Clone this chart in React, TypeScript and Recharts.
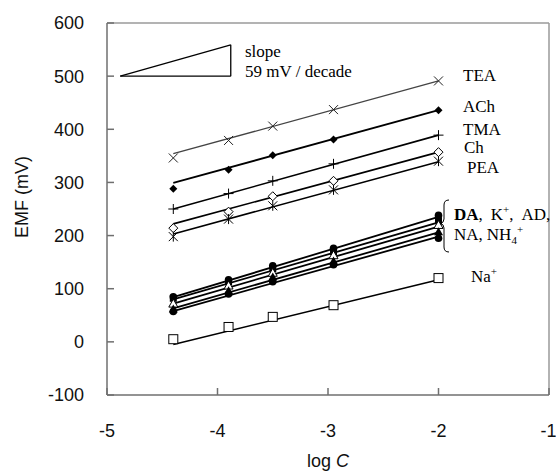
import React from "react";
import { ComposedChart, Scatter, Line, XAxis, YAxis, ReferenceLine } from "recharts";

// log C of the measured points
const logC = [-4.4, -3.9, -3.5, -2.95, -2.0];
const fitX = [-4.4, -2.0];

// measured EMF (mV)
const tea = [346, 379, 406, 437, 491];
const ach = [288, 324, 351, 381, 436];
const tma = [250, 279, 303, 335, 389];
const ch = [214, 245, 274, 303, 357];
const pea = [198, 231, 256, 286, 340];
const da = [85, 117, 143, 176, 238];
const kPlus = [82, 113, 138, 170, 228];
const ad = [72, 106, 130, 163, 220];
const na = [62, 96, 122, 152, 207];
const nh4 = [57, 90, 113, 145, 195];
const naPlus = [5, 28, 47, 69, 120];

// fitted line values at the ends (-4.4, -2.0)
const teaFit = [354, 491];
const achFit = [299, 436];
const tmaFit = [250, 389];
const chFit = [222, 357];
const peaFit = [203, 339];
const daFit = [84, 235];
const kFit = [80, 225];
const adFit = [72, 217];
const naFit = [63, 206];
const nh4Fit = [58, 198];
const naPlusFit = [-5, 117];

const xTicks = [-5, -4, -3, -2, -1];
const yTicks = [-100, 0, 100, 200, 300, 400, 500, 600];

// slope triangle (one decade, 59 mV)
const slopeX = [-4.88, -3.88];
const slopeY = [500, 559];

const pts = (ys: number[]) => logC.map((x, i) => ({ x, y: ys[i] }));
const fitPts = (ys: number[]) => fitX.map((x, i) => ({ x, y: ys[i] }));

const sans = "'Liberation Sans', Arial, sans-serif";
const serif = "'Liberation Serif', 'Times New Roman', serif";

const shapes: Record<string, (p: any) => React.ReactElement> = {
  cross: ({ cx, cy }) => (
    <g stroke="#222" strokeWidth={1}>
      <line x1={cx - 4.5} y1={cy - 4.5} x2={cx + 4.5} y2={cy + 4.5} />
      <line x1={cx - 4.5} y1={cy + 4.5} x2={cx + 4.5} y2={cy - 4.5} />
    </g>
  ),
  plus: ({ cx, cy }) => (
    <g stroke="#000" strokeWidth={1}>
      <line x1={cx - 5} y1={cy} x2={cx + 5} y2={cy} />
      <line x1={cx} y1={cy - 5} x2={cx} y2={cy + 5} />
    </g>
  ),
  star: ({ cx, cy }) => (
    <g stroke="#000" strokeWidth={1}>
      <line x1={cx - 4.5} y1={cy - 4.5} x2={cx + 4.5} y2={cy + 4.5} />
      <line x1={cx - 4.5} y1={cy + 4.5} x2={cx + 4.5} y2={cy - 4.5} />
      <line x1={cx} y1={cy - 5} x2={cx} y2={cy + 5} />
    </g>
  ),
  diamondFill: ({ cx, cy }) => (
    <polygon points={`${cx},${cy - 4} ${cx + 4},${cy} ${cx},${cy + 4} ${cx - 4},${cy}`} fill="#000" />
  ),
  diamondOpen: ({ cx, cy }) => (
    <polygon points={`${cx},${cy - 4.5} ${cx + 4.5},${cy} ${cx},${cy + 4.5} ${cx - 4.5},${cy}`} fill="#fff" stroke="#000" strokeWidth={1} />
  ),
  squareOpen: ({ cx, cy }) => (
    <rect x={cx - 4.5} y={cy - 4.5} width={9} height={9} fill="#fff" stroke="#000" strokeWidth={1} />
  ),
  squareFill: ({ cx, cy }) => <rect x={cx - 3.5} y={cy - 3.5} width={7} height={7} fill="#000" />,
  circleFill: ({ cx, cy }) => <circle cx={cx} cy={cy} r={3.8} fill="#000" />,
  triFill: ({ cx, cy }) => (
    <polygon points={`${cx},${cy - 4.5} ${cx + 4.5},${cy + 3.5} ${cx - 4.5},${cy + 3.5}`} fill="#000" />
  ),
  triOpen: ({ cx, cy }) => (
    <polygon points={`${cx},${cy - 4.5} ${cx + 4.5},${cy + 3.5} ${cx - 4.5},${cy + 3.5}`} fill="#fff" stroke="#000" strokeWidth={1} />
  ),
};

const series = [
  { name: "TEA", values: tea, fit: teaFit, shape: "cross", stroke: "#444", width: 1.3 },
  { name: "ACh", values: ach, fit: achFit, shape: "diamondFill", stroke: "#000", width: 1.8 },
  { name: "TMA", values: tma, fit: tmaFit, shape: "plus", stroke: "#000", width: 1.6 },
  { name: "Ch", values: ch, fit: chFit, shape: "diamondOpen", stroke: "#000", width: 1.6 },
  { name: "PEA", values: pea, fit: peaFit, shape: "star", stroke: "#000", width: 1.6 },
  { name: "DA", values: da, fit: daFit, shape: "circleFill", stroke: "#000", width: 1.8 },
  { name: "K+", values: kPlus, fit: kFit, shape: "squareFill", stroke: "#000", width: 1.8 },
  { name: "AD", values: ad, fit: adFit, shape: "triOpen", stroke: "#000", width: 1.8 },
  { name: "NA", values: na, fit: naFit, shape: "triFill", stroke: "#000", width: 1.8 },
  { name: "NH4+", values: nh4, fit: nh4Fit, shape: "circleFill", stroke: "#000", width: 1.8 },
  { name: "Na+", values: naPlus, fit: naPlusFit, shape: "squareOpen", stroke: "#000", width: 1.6 },
];

const tickStyle = { fill: "#111", fontSize: 18, fontFamily: sans };

export default function App() {
  return (
    <div style={{ position: "absolute", left: 0, top: 0, width: 556, height: 472, background: "#fff" }}>
      <ComposedChart width={556} height={472} margin={{ top: 23, right: 7, bottom: 0, left: 0 }}>
        <XAxis
          type="number"
          dataKey="x"
          domain={[-5, -1]}
          ticks={xTicks}
          height={77}
          tickSize={-7}
          tickMargin={36}
          stroke="#6f6f6f"
          strokeWidth={1.5}
          tick={tickStyle}
        />
        <YAxis
          type="number"
          dataKey="y"
          domain={[-100, 600]}
          ticks={yTicks}
          width={107}
          tickSize={-7}
          tickMargin={30}
          stroke="#6f6f6f"
          strokeWidth={1.5}
          tick={tickStyle}
        />
        <ReferenceLine y={600} stroke="#9a9a9a" strokeWidth={1.5} />
        <ReferenceLine x={-1} stroke="#9a9a9a" strokeWidth={1.5} />
        <ReferenceLine segment={[{ x: slopeX[0], y: slopeY[0] }, { x: slopeX[1], y: slopeY[1] }]} stroke="#000" strokeWidth={1.3} />
        <ReferenceLine segment={[{ x: slopeX[1], y: slopeY[0] }, { x: slopeX[1], y: slopeY[1] }]} stroke="#000" strokeWidth={1.3} />
        <ReferenceLine segment={[{ x: slopeX[0], y: slopeY[0] }, { x: slopeX[1], y: slopeY[0] }]} stroke="#000" strokeWidth={1.3} />
        {series.map((s) => (
          <Line
            key={s.name + "-fit"}
            data={fitPts(s.fit)}
            dataKey="y"
            stroke={s.stroke}
            strokeWidth={s.width}
            dot={false}
            activeDot={false}
            isAnimationActive={false}
          />
        ))}
        {series.map((s) => (
          <Scatter
            key={s.name}
            name={s.name}
            data={pts(s.values)}
            dataKey="y"
            shape={shapes[s.shape]}
            isAnimationActive={false}
          />
        ))}
      </ComposedChart>
      <svg width={556} height={472} style={{ position: "absolute", left: 0, top: 0, pointerEvents: "none" }}>
        <text x={22} y={197} transform="rotate(-90 22 197)" textAnchor="middle" dominantBaseline="central" fontFamily={sans} fontSize={18} fill="#111">
          EMF (mV)
        </text>
        <text x={328} y={467} textAnchor="middle" fontFamily={sans} fontSize={18} fill="#111">
          log <tspan fontStyle="italic">C</tspan>
        </text>
        <g fontFamily={serif} fontSize={17} fill="#000">
          <text x={245} y={57}>slope</text>
          <text x={245} y={77}>59 mV / decade</text>
          <text x={463} y={81}>TEA</text>
          <text x={463} y={112}>ACh</text>
          <text x={463} y={135}>TMA</text>
          <text x={464} y={153}>Ch</text>
          <text x={467} y={173}>PEA</text>
          <text x={454} y={220}>
            <tspan fontWeight="bold">DA</tspan>
            <tspan>,</tspan>
            <tspan dx={8}>K</tspan>
            <tspan dy={-7} fontSize={11}>+</tspan>
            <tspan dy={7}>,</tspan>
            <tspan dx={8}>AD,</tspan>
          </text>
          <text x={454} y={240}>
            <tspan>NA,</tspan>
            <tspan dx={4}>NH</tspan>
            <tspan dy={4} fontSize={11}>4</tspan>
            <tspan dy={-11} fontSize={11}>+</tspan>
          </text>
          <text x={471} y={282}>
            <tspan>Na</tspan>
            <tspan dy={-7} fontSize={11}>+</tspan>
          </text>
        </g>
        <path
          d="M449,200 Q444,200 444,205 L444,219 Q444,223 440,223.5 Q444,224 444,228 L444,247 Q444,252 449,252"
          fill="none"
          stroke="#000"
          strokeWidth={1}
        />
      </svg>
    </div>
  );
}
